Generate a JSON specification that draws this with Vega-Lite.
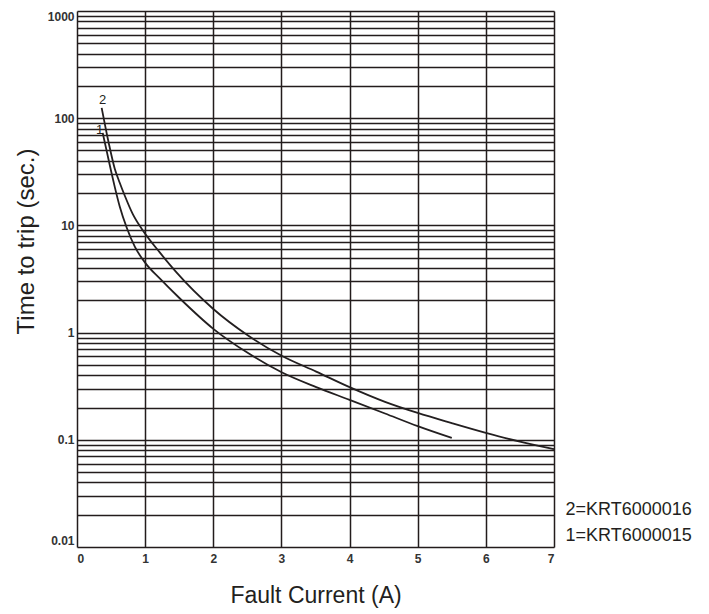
{
  "$schema": "https://vega.github.io/schema/vega-lite/v6.json",
  "autosize": {"type": "none"},
  "padding": {"left": 77, "top": 11, "right": 155, "bottom": 67},
  "width": 477,
  "height": 536,
  "background": "white",
  "config": {"font": "Liberation Sans", "view": {"stroke": null}},
  "datasets": {
    "curves": [
      {"curve": "2", "current": 0.362, "time": 125},
      {"curve": "2", "current": 0.465, "time": 59},
      {"curve": "2", "current": 0.553, "time": 34},
      {"curve": "2", "current": 0.627, "time": 25},
      {"curve": "2", "current": 0.70, "time": 19},
      {"curve": "2", "current": 0.817, "time": 12.8},
      {"curve": "2", "current": 0.964, "time": 9.0},
      {"curve": "2", "current": 1.214, "time": 5.6},
      {"curve": "2", "current": 1.45, "time": 3.7},
      {"curve": "2", "current": 1.996, "time": 1.67},
      {"curve": "2", "current": 2.51, "time": 0.94},
      {"curve": "2", "current": 3.01, "time": 0.605},
      {"curve": "2", "current": 3.51, "time": 0.433},
      {"curve": "2", "current": 4.0, "time": 0.31},
      {"curve": "2", "current": 4.52, "time": 0.226},
      {"curve": "2", "current": 5.0, "time": 0.178},
      {"curve": "2", "current": 5.5, "time": 0.143},
      {"curve": "2", "current": 6.0, "time": 0.116},
      {"curve": "2", "current": 6.5, "time": 0.096},
      {"curve": "2", "current": 7.0, "time": 0.082},
      {"curve": "1", "current": 0.377, "time": 73},
      {"curve": "1", "current": 0.44, "time": 48},
      {"curve": "1", "current": 0.506, "time": 31},
      {"curve": "1", "current": 0.553, "time": 23},
      {"curve": "1", "current": 0.627, "time": 15},
      {"curve": "1", "current": 0.73, "time": 9.5},
      {"curve": "1", "current": 0.85, "time": 6.3},
      {"curve": "1", "current": 1.01, "time": 4.4},
      {"curve": "1", "current": 1.214, "time": 3.2},
      {"curve": "1", "current": 1.51, "time": 2.08},
      {"curve": "1", "current": 1.996, "time": 1.09},
      {"curve": "1", "current": 2.51, "time": 0.644},
      {"curve": "1", "current": 3.01, "time": 0.424},
      {"curve": "1", "current": 3.51, "time": 0.31},
      {"curve": "1", "current": 4.0, "time": 0.236},
      {"curve": "1", "current": 4.52, "time": 0.176},
      {"curve": "1", "current": 5.0, "time": 0.134},
      {"curve": "1", "current": 5.5, "time": 0.104}
    ],
    "curveLabels": [
      {"label": "2", "current": 0.374, "time": 148},
      {"label": "1", "current": 0.333, "time": 78}
    ],
    "legend": [
      {"label": "2=KRT6000016", "current": 7.17, "time": 0.0221},
      {"label": "1=KRT6000015", "current": 7.17, "time": 0.0128}
    ]
  },
  "layer": [
    {
      "data": {"name": "curves"},
      "mark": {"type": "line", "interpolate": "monotone", "color": "#231f20", "strokeWidth": 1.8},
      "encoding": {
        "x": {
          "field": "current", "type": "quantitative",
          "scale": {"domain": [0, 7], "nice": false, "zero": false},
          "axis": {
            "values": [0, 0.5, 1, 1.5, 2, 2.5, 3, 3.5, 4, 4.5, 5, 5.5, 6, 6.5, 7],
            "labelExpr": "datum.value % 1 == 0 ? format(datum.value, 'd') : ''",
            "labelOverlap": false,
            "grid": true, "gridColor": "#231c1c", "gridWidth": 1.5, "gridOpacity": 1,
            "domain": false, "ticks": false,
            "labelPadding": 6, "labelFontSize": 12, "labelFontWeight": "bold", "labelColor": "#333333",
            "title": "Fault Current (A)", "titleFontSize": 23, "titleFontWeight": "normal",
            "titleColor": "#231f20", "titleBaseline": "alphabetic", "titleY": 55
          }
        },
        "y": {
          "field": "time", "type": "quantitative",
          "scale": {"type": "log", "domain": [0.01, 1000], "nice": false},
          "axis": {
            "values": [0.01, 0.02, 0.03, 0.04, 0.05, 0.06, 0.07, 0.08, 0.09,
                       0.1, 0.2, 0.3, 0.4, 0.5, 0.6, 0.7, 0.8, 0.9,
                       1, 2, 3, 4, 5, 6, 7, 8, 9,
                       10, 20, 30, 40, 50, 60, 70, 80, 90,
                       100, 200, 300, 400, 500, 600, 700, 800, 900, 1000],
            "format": "~g",
            "labelExpr": "indexof([0.01, 0.1, 1, 10, 100, 1000], datum.value) >= 0 ? format(datum.value, '~g') : ''",
            "labelOverlap": false,
            "labelFlush": true,
            "grid": true, "gridColor": "#231c1c", "gridWidth": 1.5, "gridOpacity": 1,
            "domain": false, "ticks": false,
            "labelPadding": 3, "labelFontSize": 12, "labelFontWeight": "bold", "labelColor": "#333333",
            "title": "Time to trip (sec.)", "titleFontSize": 24, "titleFontWeight": "normal",
            "titleColor": "#231f20", "titleBaseline": "alphabetic", "titleX": -44, "titleY": 230
          }
        },
        "detail": {"field": "curve", "type": "nominal"}
      }
    },
    {
      "data": {"name": "curveLabels"},
      "mark": {"type": "text", "fontSize": 13, "color": "#231f20", "align": "center", "baseline": "middle"},
      "encoding": {
        "x": {"field": "current", "type": "quantitative"},
        "y": {"field": "time", "type": "quantitative"},
        "text": {"field": "label"}
      }
    },
    {
      "data": {"name": "legend"},
      "mark": {"type": "text", "fontSize": 18, "color": "#231f20", "align": "left", "baseline": "middle"},
      "encoding": {
        "x": {"field": "current", "type": "quantitative"},
        "y": {"field": "time", "type": "quantitative"},
        "text": {"field": "label"}
      }
    }
  ]
}
